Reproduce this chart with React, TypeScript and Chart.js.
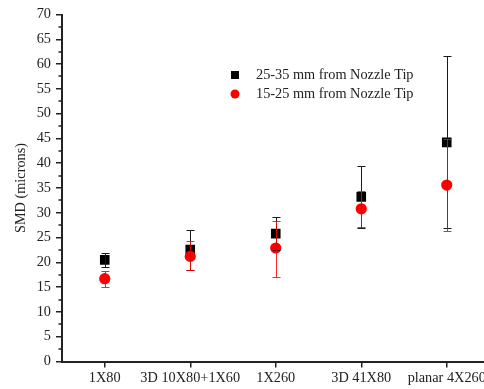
import React, { useEffect, useRef } from 'react';
import { Chart, registerables } from 'chart.js';

Chart.register(...registerables);

const categories = ['1X80', '3D 10X80+1X60', '1X260', '3D 41X80', 'planar 4X260'];
const seriesNames = ['25-35 mm from Nozzle Tip', '15-25 mm from Nozzle Tip'];

const smdFar = [20.5, 22.6, 25.8, 33.2, 44.2];
const smdFarLow = [19.0, 18.4, 22.4, 26.9, 26.9];
const smdFarHigh = [21.9, 26.6, 29.1, 39.5, 61.6];

const smdNear = [16.7, 21.2, 22.9, 30.8, 35.6];
const smdNearLow = [15.1, 18.4, 17.1, 27.1, 26.3];
const smdNearHigh = [18.3, 24.3, 28.3, 34.3, 44.9];

const yMin = 0;
const yMax = 70;
const yStep = 5;
const yMinorStep = 2.5;

const W = 530;
const H = 389;
const FONT = "'Liberation Serif', 'Times New Roman', serif";
const FS = 14.3;
const TEXT = '#222';

export default function App() {
  const ref = useRef<HTMLCanvasElement>(null);

  useEffect(() => {
    document.body.style.margin = '0';
    document.body.style.overflow = 'hidden';
    const canvas = ref.current;
    if (!canvas) return;

    const errorBars = {
      id: 'errorBars',
      afterDatasetsDraw(chart: any) {
        const ctx = chart.ctx;
        const ys = chart.scales.y;
        const specs: [number, number[], number[], string][] = [
          [0, smdFarLow, smdFarHigh, '#1a1a1a'],
          [1, smdNearLow, smdNearHigh, 'rgba(255,0,0,0.85)'],
        ];
        ctx.save();
        for (const [idx, lo, hi, color] of specs) {
          const meta = chart.getDatasetMeta(idx);
          meta.data.forEach((pt: any, j: number) => {
            const x = Math.round(pt.x) + 0.5;
            const yl = Math.round(ys.getPixelForValue(lo[j])) + 0.5;
            const yh = Math.round(ys.getPixelForValue(hi[j])) + 0.5;
            ctx.strokeStyle = color;
            ctx.lineWidth = 1;
            ctx.beginPath();
            ctx.moveTo(x, yl);
            ctx.lineTo(x, yh);
            ctx.moveTo(x - 4, yl);
            ctx.lineTo(x + 4, yl);
            ctx.moveTo(x - 4, yh);
            ctx.lineTo(x + 4, yh);
            ctx.stroke();
          });
        }
        ctx.restore();
      },
    };

    const minorTicks = {
      id: 'minorTicks',
      afterDraw(chart: any) {
        const ctx = chart.ctx;
        const ys = chart.scales.y;
        const left = chart.chartArea.left;
        ctx.save();
        ctx.strokeStyle = TEXT;
        ctx.lineWidth = 1.5;
        ctx.beginPath();
        for (let v = yMin + yMinorStep; v < yMax; v += yStep) {
          const y = Math.round(ys.getPixelForValue(v));
          ctx.moveTo(left - 3.5, y);
          ctx.lineTo(left, y);
        }
        ctx.stroke();
        ctx.restore();
      },
    };

    const legendPlugin = {
      id: 'customLegend',
      afterDraw(chart: any) {
        const ctx = chart.ctx;
        ctx.save();
        ctx.fillStyle = '#000';
        ctx.fillRect(231, 71, 8, 8);
        ctx.fillStyle = '#ff0000';
        ctx.beginPath();
        ctx.arc(235, 94, 4.5, 0, Math.PI * 2);
        ctx.fill();
        ctx.fillStyle = TEXT;
        ctx.font = `${FS}px ${FONT}`;
        ctx.textBaseline = 'middle';
        ctx.textAlign = 'left';
        ctx.fillText(seriesNames[0], 256, 75.5);
        ctx.fillText(seriesNames[1], 256, 94);
        ctx.restore();
      },
    };

    const chart = new Chart(canvas, {
      type: 'line',
      data: {
        labels: categories,
        datasets: [
          {
            label: seriesNames[0],
            data: smdFar,
            showLine: false,
            pointStyle: 'rect',
            pointRadius: 6.8,
            pointBackgroundColor: '#000',
            pointBorderColor: '#000',
            pointBorderWidth: 0,
            order: 1,
          },
          {
            label: seriesNames[1],
            data: smdNear,
            showLine: false,
            pointStyle: 'circle',
            pointRadius: 5.6,
            pointBackgroundColor: '#ff0000',
            pointBorderColor: '#ff0000',
            pointBorderWidth: 0,
            order: 0,
          },
        ],
      },
      options: {
        responsive: false,
        animation: false,
        devicePixelRatio: 1,
        layout: { padding: { top: 14.5, right: W - 489.5, bottom: 0, left: 0 } },
        plugins: {
          legend: { display: false },
          tooltip: { enabled: false },
        },
        scales: {
          x: {
            type: 'category',
            offset: true,
            afterFit: (s: any) => {
              s.height = H - 361.5;
            },
            grid: {
              display: true,
              drawOnChartArea: false,
              drawTicks: true,
              tickLength: 6,
              offset: false,
              color: TEXT,
              lineWidth: 1.5,
            },
            border: { display: true, color: TEXT, width: 2 },
            ticks: {
              color: TEXT,
              font: { family: FONT, size: FS },
              padding: 2,
              maxRotation: 0,
              autoSkip: false,
            },
          },
          y: {
            min: yMin,
            max: yMax,
            afterFit: (s: any) => {
              s.width = 62;
            },
            grid: {
              display: true,
              drawOnChartArea: false,
              drawTicks: true,
              tickLength: 6,
              color: TEXT,
              lineWidth: 1.5,
            },
            border: { display: true, color: TEXT, width: 2 },
            ticks: {
              stepSize: yStep,
              color: TEXT,
              font: { family: FONT, size: FS },
              padding: 5,
            },
            title: {
              display: true,
              text: 'SMD (microns)',
              color: TEXT,
              font: { family: FONT, size: FS },
              padding: { top: 12.5, bottom: 0 },
            },
          },
        },
      },
      plugins: [errorBars, minorTicks, legendPlugin],
    });

    return () => chart.destroy();
  }, []);

  return (
    <div style={{ position: 'fixed', left: 0, top: 0, width: W, height: H }}>
      <canvas ref={ref} width={W} height={H} style={{ display: 'block', width: W, height: H }} />
    </div>
  );
}
